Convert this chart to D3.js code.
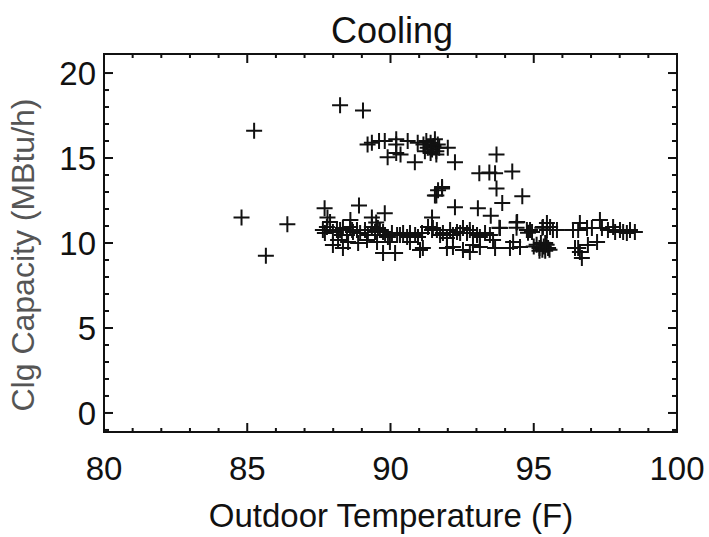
<!DOCTYPE html>
<html lang="en">
<head>
    <meta charset="UTF-8">
    <title>Cooling</title>
    <script src="https://cdnjs.cloudflare.com/ajax/libs/d3/7.8.5/d3.min.js"></script>
    <style>
        body { margin: 0; background: white; }
        text { font-family: "Liberation Sans", Arial, sans-serif; fill: #111; }
    </style>
</head>
<body>
    <svg id="chart" width="709" height="537"></svg>
    <script>
        // Outdoor temperature (F) and cooling capacity (MBtu/h)
        const temps = [
            85.24, 84.8, 86.4, 85.65, 88.24, 89.04,
            89.2, 89.35, 89.6, 89.8, 90.2, 90.2, 90.6, 90.95, 91.15, 91.25, 91.3, 91.4, 91.45, 91.5,
            91.55, 91.6, 91.65, 91.7, 91.4, 91.2, 92.0, 89.9, 90.2, 90.35, 90.85, 91.6, 92.25,
            93.7, 93.1, 93.45, 93.65, 94.25, 93.7, 91.8, 91.6, 93.9, 94.6, 92.25, 93.05, 93.5,
            93.8, 94.4, 94.4, 94.8, 95.3, 91.66, 91.8, 91.55,
            87.7, 88.9, 89.8, 91.45, 87.8, 88.6, 89.35, 89.5,
            87.64, 87.78, 87.89, 87.71, 87.99, 88.13, 88.24, 88.3, 88.34, 88.48, 88.59, 88.66,
            88.69, 88.83, 88.94, 89.11, 89.21, 89.35, 89.46, 89.56, 89.63, 89.74, 89.81, 89.91,
            90.05, 90.23, 90.33, 90.44, 90.58, 90.68, 90.86, 90.96, 91.1, 91.31, 91.45, 91.48,
            91.62, 91.73, 91.83, 91.97, 92.08, 92.18, 92.32, 92.43, 92.53, 92.67, 92.77, 92.88,
            93.02, 93.12, 93.3, 93.47, 93.58,
            87.99, 88.34, 88.17, 88.52, 88.87, 89.18, 89.53, 89.74, 90.16, 89.98, 90.68, 91.03,
            91.13, 91.97, 92.18, 92.53, 92.77, 92.88, 93.12, 93.65, 94.17, 94.28, 93.82, 94.42,
            94.87, 95.32,
            95.1, 95.2, 95.25, 95.3, 95.35, 95.4, 95.45, 95.5, 95.55, 95.2, 95.4, 95.0,
            94.76, 94.94, 94.52, 95.46, 95.46, 95.67, 95.81, 95.57, 96.37, 96.55, 96.61, 96.86,
            97.03, 97.31, 97.38, 97.21, 96.89, 96.55, 96.61, 96.68, 96.44, 97.59, 97.77, 97.84,
            98.01, 98.12, 98.25, 98.36, 98.53
        ];
        const caps = [
            16.6, 11.5, 11.1, 9.25, 18.1, 17.8,
            15.8, 15.9, 16.0, 16.0, 16.1, 15.8, 16.0, 15.9, 15.8, 16.0, 15.6, 15.9, 15.5, 15.7,
            16.1, 15.4, 15.8, 15.6, 15.3, 15.4, 15.6, 15.05, 15.3, 15.2, 14.75, 15.2, 14.75,
            15.2, 14.1, 14.15, 14.1, 14.2, 13.2, 13.2, 12.8, 12.35, 12.75, 12.1, 12.05, 11.6,
            10.9, 11.2, 10.9, 10.6, 10.9, 13.1, 13.3, 12.8,
            12.05, 12.2, 11.75, 11.5, 11.5, 11.35, 11.5, 11.2,
            10.76, 10.94, 11.24, 10.59, 10.65, 10.76, 10.76, 10.47, 10.88, 10.47, 10.94, 10.76,
            10.65, 10.76, 10.59, 10.76, 10.47, 10.94, 10.65, 10.88, 10.76, 10.65, 10.47, 10.35,
            10.59, 10.47, 10.47, 10.59, 10.35, 10.59, 10.47, 10.35, 10.59, 10.94, 10.76, 10.88,
            10.76, 10.47, 10.59, 10.29, 10.76, 10.47, 10.65, 10.59, 10.88, 10.59, 10.76, 10.59,
            10.47, 10.35, 10.59, 10.47, 10.18,
            9.88, 9.71, 10.18, 10.06, 10.0, 10.18, 10.06, 9.41, 9.41, 10.06, 10.06, 9.59,
            9.71, 9.71, 9.76, 9.59, 9.47, 9.88, 9.76, 9.71, 9.71, 10.06, 10.88, 11.24,
            10.76, 10.94,
            9.9, 9.7, 10.0, 9.6, 9.8, 9.55, 9.9, 9.7, 9.6, 9.55, 10.0, 9.8,
            10.76, 10.65, 9.76, 11.18, 10.76, 10.76, 10.76, 10.94, 10.76, 10.76, 11.18, 10.88,
            10.88, 11.35, 10.88, 10.06, 9.88, 9.71, 9.47, 9.12, 9.71, 10.76, 10.94, 10.65,
            10.76, 10.65, 10.59, 10.76, 10.65
        ];
        const xTicks = [80, 85, 90, 95, 100];
        const yTicks = [0, 5, 10, 15, 20];
        const xMinor = d3.range(81, 100).filter(v => v % 5 !== 0);
        const yMinor = d3.range(-1, 21).filter(v => v % 5 !== 0);

        const plotLeft = 104, plotRight = 677, plotTop = 54, plotBottom = 432;

        const svg = d3.select("#chart");

        const x = d3.scaleLinear().domain([80, 100]).range([plotLeft, plotRight]);
        const y = d3.scaleLinear().domain([-1.12, 21.12]).range([plotBottom, plotTop]);

        // frame
        svg.append("rect")
            .attr("x", plotLeft).attr("y", plotTop)
            .attr("width", plotRight - plotLeft).attr("height", plotBottom - plotTop)
            .attr("fill", "none").attr("stroke", "#111").attr("stroke-width", 2);

        // ticks on all four sides, pointing inwards
        const tickG = svg.append("g").attr("stroke", "#111").attr("stroke-width", 2);
        function xTick(v, len) {
            tickG.append("line").attr("x1", x(v)).attr("x2", x(v)).attr("y1", plotBottom).attr("y2", plotBottom - len);
            tickG.append("line").attr("x1", x(v)).attr("x2", x(v)).attr("y1", plotTop).attr("y2", plotTop + len);
        }
        function yTick(v, len) {
            tickG.append("line").attr("y1", y(v)).attr("y2", y(v)).attr("x1", plotLeft).attr("x2", plotLeft + len);
            tickG.append("line").attr("y1", y(v)).attr("y2", y(v)).attr("x1", plotRight).attr("x2", plotRight - len);
        }
        xTicks.forEach(v => xTick(v, 9));
        xMinor.forEach(v => xTick(v, 4));
        yTicks.forEach(v => yTick(v, 9));
        yMinor.forEach(v => yTick(v, 5));

        // tick labels
        svg.selectAll(".xl").data(xTicks).enter().append("text")
            .attr("x", d => x(d)).attr("y", 480)
            .attr("text-anchor", "middle").attr("font-size", 33)
            .text(d => d);
        svg.selectAll(".yl").data(yTicks).enter().append("text")
            .attr("x", 96).attr("y", d => y(d) + 12)
            .attr("text-anchor", "end").attr("font-size", 33)
            .text(d => d);

        // titles
        svg.append("text").attr("x", 392).attr("y", 43)
            .attr("text-anchor", "middle").attr("font-size", 36).text("Cooling");
        svg.append("text").attr("x", 391).attr("y", 527)
            .attr("text-anchor", "middle").attr("font-size", 33).text("Outdoor Temperature (F)");
        svg.append("text")
            .attr("transform", "translate(34,255) rotate(-90)")
            .attr("text-anchor", "middle").attr("font-size", 32)
            .style("fill", "#555")
            .text("Clg Capacity (MBtu/h)");

        // plus markers
        const pts = temps.map((t, i) => ({ t: t, c: caps[i] }));
        svg.append("g").selectAll("path").data(pts).enter().append("path")
            .attr("transform", d => `translate(${x(d.t)},${y(d.c)})`)
            .attr("d", "M-8,0H8M0,-8V8")
            .attr("stroke", "#111").attr("stroke-width", 2).attr("fill", "none");
    </script>
</body>
</html>
